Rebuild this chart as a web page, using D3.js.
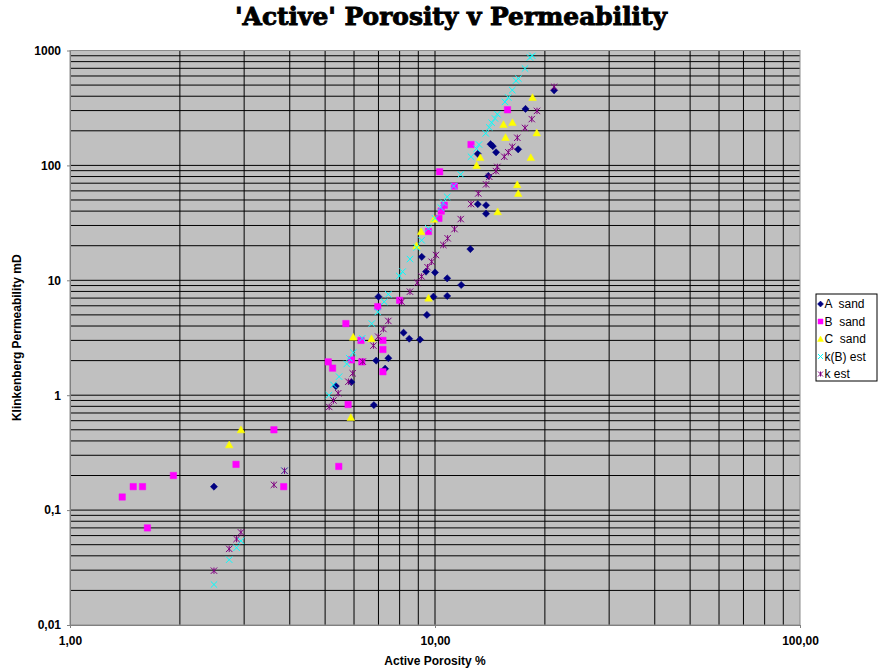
<!DOCTYPE html>
<html>
<head>
<meta charset="utf-8">
<script src="https://cdn.jsdelivr.net/npm/d3@7"></script>
<style>
  body { margin: 0; background: #fff; }
  svg { display: block; }
</style>
</head>
<body>
<svg id="chart" width="878" height="670"></svg>
<script>
// [active porosity %, Klinkenberg permeability mD]
const aSand = [
  [21.2, 450], [17.7, 310], [14.2, 153], [14.4, 147], [14.7, 130], [16.9, 138],
  [13.1, 126], [14.0, 81], [13.1, 46], [13.8, 45], [13.8, 38], [12.5, 18.7],
  [9.2, 16], [9.45, 11.9], [10.0, 11.7], [10.8, 10.4], [11.8, 9.1], [10.8, 7.3],
  [9.9, 7.2], [9.5, 5.0], [8.2, 3.5], [8.5, 3.1], [9.1, 3.05], [7.0, 7.2],
  [7.45, 2.1], [6.9, 2.0], [7.3, 1.7], [5.9, 1.3], [5.35, 1.2], [6.8, 0.82],
  [2.48, 0.16]
];
const bSand = [
  [15.8, 305], [12.55, 152], [10.3, 88], [11.3, 66], [10.6, 45], [10.4, 40],
  [10.25, 34.6], [9.6, 26.6], [8.0, 6.7], [6.97, 5.9], [5.7, 4.2], [6.27, 3.0],
  [7.2, 3.0], [7.2, 2.5], [5.9, 2.03], [6.3, 1.95], [5.1, 1.95], [5.24, 1.72],
  [7.2, 1.6], [5.78, 0.83], [3.62, 0.5], [2.85, 0.25], [1.92, 0.2], [1.49, 0.16],
  [1.58, 0.16], [1.39, 0.13], [1.63, 0.07], [3.85, 0.16], [5.45, 0.24]
];
const cSand = [
  [18.5, 390], [16.3, 236], [15.4, 227], [15.6, 175], [19.0, 192], [18.3, 117],
  [13.3, 117], [13.0, 100], [16.8, 68], [16.9, 57], [14.85, 39.5], [9.94, 34],
  [9.16, 26.5], [8.9, 20], [9.6, 7.0], [5.97, 3.2], [6.7, 3.1], [5.88, 0.64],
  [2.94, 0.5], [2.73, 0.37]
];
const kbEst = [
  [2.48, 0.0225], [2.73, 0.037], [2.86, 0.047], [2.94, 0.054], [3.87, 0.22],
  [5.12, 1.0], [5.27, 1.23], [5.46, 1.45], [5.73, 1.87], [5.82, 2.1], [5.97, 2.35],
  [6.32, 3.13], [6.71, 4.2], [6.97, 5.3], [7.26, 6.5], [7.45, 7.55], [7.98, 10.9],
  [8.15, 11.9], [8.54, 15.3], [8.91, 19.3], [9.19, 22.3], [9.59, 28.3], [10.0, 34.6],
  [10.37, 43], [10.54, 47.3], [10.8, 53.3], [11.25, 66], [11.76, 83.5], [12.55, 119],
  [13.0, 140], [13.2, 152], [13.77, 190], [14.08, 214], [14.3, 235], [14.6, 256],
  [14.82, 279], [15.55, 357], [15.88, 390], [16.28, 452], [16.67, 546], [16.93, 569],
  [17.64, 697], [18.2, 869], [18.48, 898]
];
const kEst = [
  [2.48, 0.0297], [2.73, 0.046], [2.86, 0.056], [2.94, 0.064], [3.62, 0.166],
  [3.87, 0.22], [5.13, 0.79], [5.27, 0.9], [5.43, 1.04], [5.79, 1.31], [5.95, 1.55],
  [6.34, 1.96], [6.78, 2.7], [6.99, 3.23], [7.22, 3.77], [7.45, 4.43], [8.1, 6.5],
  [8.54, 7.96], [8.94, 9.53], [9.19, 10.8], [9.54, 13], [9.79, 14.5], [10.06, 16.6],
  [10.54, 20.3], [10.83, 23.2], [11.31, 27.9], [11.76, 34.1], [12.55, 46.1],
  [13.14, 57], [13.8, 68.4], [14.08, 79.6], [14.69, 89.2], [14.82, 97], [15.48, 119],
  [15.88, 130], [16.28, 145], [16.81, 174], [17.64, 212], [18.41, 253], [19.03, 298],
  [21.2, 483]
];

const seriesNames = ["A  sand", "B  sand", "C  sand", "k(B) est", "k est"];
const xTickValues = [1, 10, 100];
const xTickLabels = ["1,00", "10,00", "100,00"];
const yTickValues = [0.01, 0.1, 1, 10, 100, 1000];
const yTickLabels = ["0,01", "0,1", "1", "10", "100", "1000"];

const svg = d3.select("#chart");
const plot = { left: 70, right: 800, top: 50.5, bottom: 625 };

const x = d3.scaleLog().domain([1, 100]).range([plot.left, plot.right]);
const y = d3.scaleLog().domain([0.01, 1000]).range([plot.bottom, plot.top]);

// plot area
svg.append("rect")
  .attr("x", plot.left).attr("y", plot.top)
  .attr("width", plot.right - plot.left).attr("height", plot.bottom - plot.top)
  .attr("fill", "#c0c0c0");

// gridlines on every log subdivision
const grid = svg.append("g").attr("stroke", "#000").attr("stroke-width", 1);
grid.selectAll("line.gx").data(x.ticks().filter(v => v > 1 && v < 100)).join("line")
  .attr("x1", d => x(d)).attr("x2", d => x(d))
  .attr("y1", plot.top).attr("y2", plot.bottom);
grid.selectAll("line.gy").data(y.ticks().filter(v => v > 0.01 && v < 1000)).join("line")
  .attr("y1", d => y(d)).attr("y2", d => y(d))
  .attr("x1", plot.left).attr("x2", plot.right);

// plot frame
svg.append("rect")
  .attr("x", plot.left).attr("y", plot.top)
  .attr("width", plot.right - plot.left).attr("height", plot.bottom - plot.top)
  .attr("fill", "none").attr("stroke", "#8c8c8c").attr("stroke-width", 1);

// axes
const yAxis = d3.axisLeft(y).tickValues(yTickValues)
  .tickFormat((d, i) => yTickLabels[i]).tickSizeInner(3).tickSizeOuter(0).tickPadding(6);
const xAxis = d3.axisBottom(x).tickValues(xTickValues)
  .tickFormat((d, i) => xTickLabels[i]).tickSizeInner(3).tickSizeOuter(0).tickPadding(8);

const gy = svg.append("g").attr("transform", `translate(${plot.left},0)`).call(yAxis);
const gx = svg.append("g").attr("transform", `translate(0,${plot.bottom})`).call(xAxis);
[gx, gy].forEach(g => {
  g.select(".domain").attr("stroke", "#808080");
  g.selectAll(".tick line").attr("stroke", "#808080");
  g.selectAll(".tick text")
    .attr("fill", "#000")
    .style("font-family", "Liberation Sans, Arial, sans-serif")
    .style("font-size", "12px")
    .style("font-weight", "bold");
});

// marker shapes
function markerPath(kind, s) {
  const p = d3.path();
  if (kind === "diamond") {
    p.moveTo(0, -s); p.lineTo(s, 0); p.lineTo(0, s); p.lineTo(-s, 0); p.closePath();
  } else if (kind === "square") {
    p.rect(-s, -s, 2 * s, 2 * s);
  } else if (kind === "triangle") {
    p.moveTo(0, -s); p.lineTo(s, s * 0.8); p.lineTo(-s, s * 0.8); p.closePath();
  } else if (kind === "x") {
    p.moveTo(-s, -s); p.lineTo(s, s); p.moveTo(s, -s); p.lineTo(-s, s);
  } else if (kind === "star") {
    p.moveTo(-s, -s); p.lineTo(s, s); p.moveTo(s, -s); p.lineTo(-s, s);
    p.moveTo(0, -s); p.lineTo(0, s);
  }
  return p.toString();
}

const series = [
  { name: seriesNames[0], data: aSand, kind: "diamond", color: "#000080", filled: true, size: 3.6 },
  { name: seriesNames[1], data: bSand, kind: "square", color: "#ff00ff", filled: true, size: 3.2 },
  { name: seriesNames[2], data: cSand, kind: "triangle", color: "#ffff00", filled: true, size: 3.8 },
  { name: seriesNames[3], data: kbEst, kind: "x", color: "#00ffff", filled: false, size: 3.2 },
  { name: seriesNames[4], data: kEst, kind: "star", color: "#800080", filled: false, size: 3.2 }
];

series.forEach(s => {
  svg.append("g").selectAll("path").data(s.data).join("path")
    .attr("transform", d => `translate(${x(d[0])},${y(d[1])})`)
    .attr("d", markerPath(s.kind, s.size))
    .attr("fill", s.filled ? s.color : "none")
    .attr("stroke", s.color)
    .attr("stroke-width", s.filled ? 0.5 : 1);
});

// titles
svg.append("text")
  .attr("x", 451).attr("y", 25)
  .attr("text-anchor", "middle")
  .attr("textLength", 432).attr("lengthAdjust", "spacingAndGlyphs")
  .attr("stroke", "#000").attr("stroke-width", 0.9)
  .style("font-family", "DejaVu Serif, serif")
  .style("font-weight", "bold")
  .style("font-size", "24px")
  .text("'Active' Porosity v Permeability");

svg.append("text")
  .attr("x", (plot.left + plot.right) / 2).attr("y", 665)
  .attr("text-anchor", "middle")
  .style("font-family", "Liberation Sans, Arial, sans-serif")
  .style("font-weight", "bold").style("font-size", "12px")
  .text("Active Porosity %");

svg.append("text")
  .attr("transform", `translate(21,${(plot.top + plot.bottom) / 2}) rotate(-90)`)
  .attr("text-anchor", "middle")
  .style("font-family", "Liberation Sans, Arial, sans-serif")
  .style("font-weight", "bold").style("font-size", "12px")
  .text("Klinkenberg Permeability mD");

// legend
const legend = svg.append("g").attr("transform", "translate(816,294)");
legend.append("rect")
  .attr("x", 0).attr("y", 0).attr("width", 61).attr("height", 87)
  .attr("fill", "#fff").attr("stroke", "#000").attr("stroke-width", 1);
series.forEach((s, i) => {
  const row = legend.append("g").attr("transform", `translate(0,${10 + i * 17.5})`);
  row.append("path")
    .attr("transform", "translate(4.5,0)")
    .attr("d", markerPath(s.kind, s.kind === "square" || s.kind === "x" || s.kind === "star" ? 2.5 : 3))
    .attr("fill", s.filled ? s.color : "none")
    .attr("stroke", s.color)
    .attr("stroke-width", s.filled ? 0.5 : 1);
  row.append("text")
    .attr("x", 8.5).attr("y", 4)
    .style("font-family", "Liberation Sans, Arial, sans-serif")
    .style("font-size", "12px")
    .style("white-space", "pre")
    .text(s.name);
});
</script>
</body>
</html>
